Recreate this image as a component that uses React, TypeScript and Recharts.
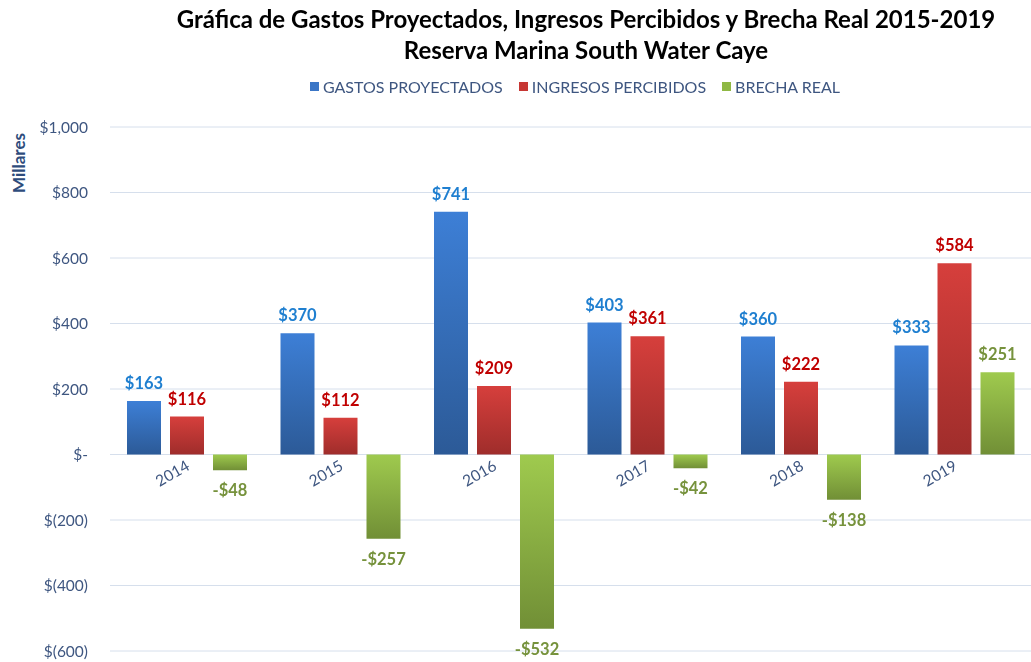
import {
  Bar,
  BarChart,
  CartesianGrid,
  LabelList,
  XAxis,
  YAxis,
} from "recharts";

const YEARS = ["2014", "2015", "2016", "2017", "2018", "2019"];
const GASTOS = [163, 370, 741, 403, 360, 333];
const INGRESOS = [116, 112, 209, 361, 222, 584];
const BRECHA = [-48, -257, -532, -42, -138, 251];
const Y_TICKS = [-600, -400, -200, 0, 200, 400, 600, 800, 1000];

const data = YEARS.map((year, i) => ({
  year,
  gastos: GASTOS[i],
  ingresos: INGRESOS[i],
  brecha: BRECHA[i],
}));

const W = 1031;
const H = 662;
const TOP = 127;
const BOTTOM = 10;
const Y_MIN = -600;
const Y_MAX = 1000;
const ZERO_Y = TOP + ((H - TOP - BOTTOM) * Y_MAX) / (Y_MAX - Y_MIN);

const FONT = "Lato, 'Open Sans', sans-serif";
const AXIS_TEXT = "#3e5680";
const GRID = "#d6dfec";

const money = (v: number) => {
  if (v === 0) return "$-";
  if (v < 0) return `$(${Math.abs(v).toLocaleString("en-US")})`;
  return `$${v.toLocaleString("en-US")}`;
};

const valueLabel = (color: string) => (props: any) => {
  const { x, y, width, height, value } = props;
  const v = Number(value);
  const neg = v < 0;
  const cx = Number(x) + Number(width) / 2;
  // height is negative for negative bars in recharts
  const top = Math.min(Number(y), Number(y) + Number(height));
  const bottom = Math.max(Number(y), Number(y) + Number(height));
  const text = neg ? `-$${Math.abs(v)}` : `$${v}`;
  return (
    <text
      x={cx}
      y={neg ? bottom + 26 : top - 12}
      textAnchor="middle"
      fill={color}
      fontFamily={FONT}
      fontWeight={700}
      fontSize={16.5}
    >
      {text}
    </text>
  );
};

function YearTick(props: any) {
  const { x, payload } = props;
  const px = Number(x) + 4;
  const py = ZERO_Y + 14;
  return (
    <text
      x={px}
      y={py}
      textAnchor="end"
      fill={AXIS_TEXT}
      fontFamily={FONT}
      fontSize={15.5}
      transform={`rotate(-30, ${px}, ${py})`}
    >
      {payload.value}
    </text>
  );
}

const LEGEND = [
  { label: "GASTOS PROYECTADOS", color: "#3b76c6" },
  { label: "INGRESOS PERCIBIDOS", color: "#c73734" },
  { label: "BRECHA REAL", color: "#8fb844" },
];

export default function App() {
  return (
    <div
      style={{
        position: "fixed",
        left: 0,
        top: 0,
        width: W,
        height: H,
        background: "#fff",
        fontFamily: FONT,
      }}
    >
      <div
        style={{
          position: "absolute",
          left: 0,
          top: 3,
          width: 1172,
          textAlign: "center",
          fontWeight: 700,
          fontSize: 24,
          lineHeight: "31px",
          color: "#000",
        }}
      >
        Gráfica de Gastos Proyectados, Ingresos Percibidos y Brecha Real 2015-2019
        <br />
        Reserva Marina South Water Caye
      </div>
      <div
        style={{
          position: "absolute",
          left: 0,
          top: 77,
          width: 1150,
          display: "flex",
          justifyContent: "center",
          gap: 16,
          fontSize: 16,
          color: AXIS_TEXT,
        }}
      >
        {LEGEND.map((l) => (
          <span key={l.label} style={{ display: "flex", alignItems: "center" }}>
            <span
              style={{
                display: "inline-block",
                width: 9,
                height: 9,
                background: l.color,
                marginRight: 4,
              }}
            />
            {l.label}
          </span>
        ))}
      </div>
      <div
        style={{
          position: "absolute",
          left: 18,
          top: 163,
          transform: "translate(-50%, -50%) rotate(-90deg)",
          fontWeight: 700,
          fontSize: 17,
          color: "#2e4c7c",
          whiteSpace: "nowrap",
        }}
      >
        Millares
      </div>
      <BarChart
        width={W}
        height={H}
        data={data}
        margin={{ top: TOP, right: 0, bottom: BOTTOM, left: 20 }}
        barSize={34}
        barGap={9}
      >
        <defs>
          <linearGradient id="gBlue" x1="0" y1="0" x2="0" y2="1">
            <stop offset="0%" stopColor="#3d7fd6" />
            <stop offset="100%" stopColor="#2c5a97" />
          </linearGradient>
          <linearGradient id="gRed" x1="0" y1="0" x2="0" y2="1">
            <stop offset="0%" stopColor="#d63f3c" />
            <stop offset="100%" stopColor="#9f2d2b" />
          </linearGradient>
          <linearGradient id="gGreen" x1="0" y1="0" x2="0" y2="1">
            <stop offset="0%" stopColor="#9fca4e" />
            <stop offset="100%" stopColor="#718f36" />
          </linearGradient>
        </defs>
        <CartesianGrid vertical={false} stroke={GRID} />
        <XAxis
          dataKey="year"
          height={1}
          axisLine={false}
          tickLine={false}
          interval={0}
          tick={<YearTick />}
        />
        <YAxis
          width={90}
          domain={[Y_MIN, Y_MAX]}
          ticks={Y_TICKS}
          interval={0}
          tickFormatter={money}
          axisLine={false}
          tickLine={false}
          tickMargin={16}
          tick={{ fontSize: 15.5, fill: AXIS_TEXT, fontFamily: FONT }}
        />
        <Bar dataKey="gastos" fill="url(#gBlue)" isAnimationActive={false}>
          <LabelList dataKey="gastos" content={valueLabel("#1f7fd0")} />
        </Bar>
        <Bar dataKey="ingresos" fill="url(#gRed)" isAnimationActive={false}>
          <LabelList dataKey="ingresos" content={valueLabel("#c00000")} />
        </Bar>
        <Bar dataKey="brecha" fill="url(#gGreen)" isAnimationActive={false}>
          <LabelList dataKey="brecha" content={valueLabel("#76923c")} />
        </Bar>
      </BarChart>
    </div>
  );
}
